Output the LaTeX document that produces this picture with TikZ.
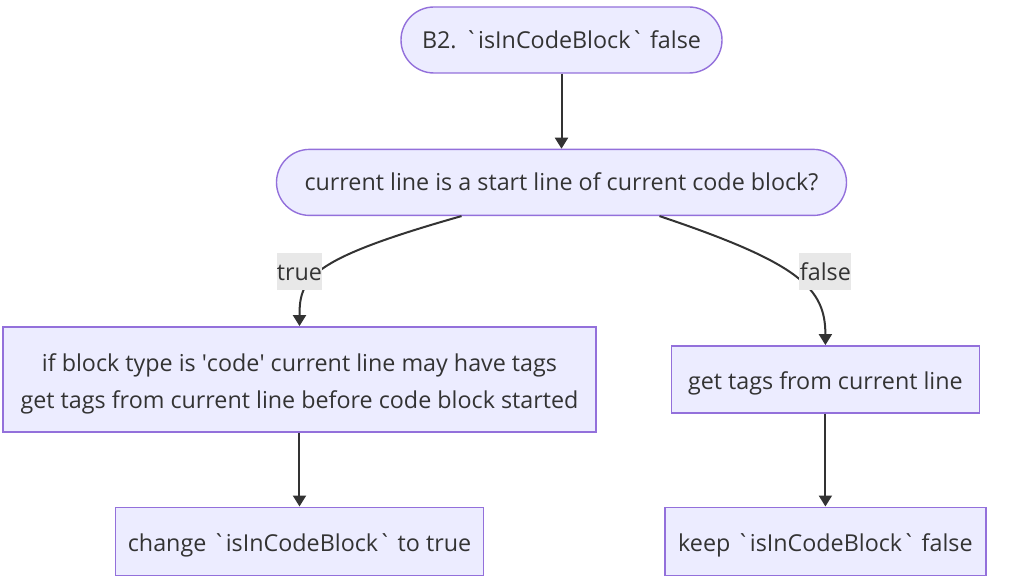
\documentclass[tikz,border=0pt]{standalone}
\usepackage{fontspec}
\setmainfont{Open Sans}
\usetikzlibrary{arrows.meta,positioning,calc}
\definecolor{nodefill}{HTML}{ECECFF}
\definecolor{nodeline}{HTML}{9370DB}
\definecolor{ink}{HTML}{333333}
\definecolor{lblfill}{HTML}{E8E8E8}
\newcommand{\bq}{\textasciigrave}
\newcommand{\sq}{\textquotesingle}
\tikzset{stadium/.style={draw=nodeline,line width=1.4pt,fill=nodefill,rounded corners=33pt,minimum height=66pt,text=ink,font=\fontsize{23.3}{28}\selectfont,inner sep=0pt,text height=17pt,text depth=0pt},box/.style={draw=nodeline,line width=1.4pt,fill=nodefill,minimum height=67pt,text=ink,align=center,font=\fontsize{23.3}{37.5}\selectfont,inner sep=0pt,text height=20pt,text depth=0pt},arr/.style={-{Triangle[length=11pt,width=13pt]},draw=ink,line width=2pt},lbl/.style={fill=lblfill,text=ink,font=\fontsize{23.3}{28}\selectfont,inner sep=0pt,minimum height=37pt,minimum width=44pt,text height=19pt,text depth=0pt}}
\begin{document}
\begin{tikzpicture}
\node[stadium,minimum width=321pt] (b2) {B2. \bq isInCodeBlock\bq{} false};
\node[stadium,minimum width=570pt,below=75pt of b2] (cur) {current line is a start line of current code block?};
\node[box,minimum width=593pt,minimum height=105pt,text height=59pt,below=110pt of cur,xshift=-262pt] (code) {if block type is \sq code\sq{} current line may have tags\\get tags from current line before code block started};
\node[box,minimum width=308pt,right=74pt of code] (tags) {get tags from current line};
\node[box,minimum width=368pt,minimum height=68pt,below=74pt of code] (chg) {change \bq isInCodeBlock\bq{} to true};
\node[box,minimum width=321pt,minimum height=68pt,below=93pt of tags] (keep) {keep \bq isInCodeBlock\bq{} false};
\draw[arr](b2)--(cur);
\draw[arr]([xshift=-100pt]cur.south) .. controls +(-152pt,-43pt) and +(0pt,48pt) .. (code.north);
\draw[arr]([xshift=98pt]cur.south) .. controls +(140pt,-47pt) and +(0pt,57pt) .. (tags.north);
\draw[arr](code)--(chg);
\draw[arr](tags)--(keep);
\node[lbl] (tl) at ($(code.north)+(0,55pt)$) {true};
\node[lbl,minimum width=52pt] (fl) at ($(tags.north)+(0,74pt)$) {false};
\useasboundingbox ($(b2.center)+(-561.5pt,40pt)$) rectangle ($(b2.center)+(470.5pt,-548pt)$);
\end{tikzpicture}
\end{document}
